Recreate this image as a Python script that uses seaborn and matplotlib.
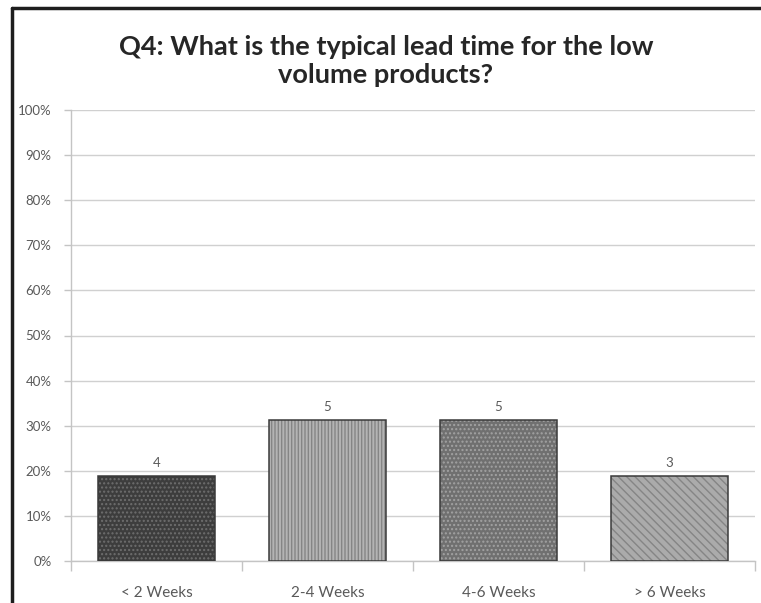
import matplotlib
matplotlib.use("Agg")
import matplotlib.pyplot as plt
from matplotlib.lines import Line2D
from matplotlib.ticker import FixedLocator, PercentFormatter
import seaborn as sns

# Survey answers
categories = ["< 2 Weeks", "2-4 Weeks", "4-6 Weeks", "> 6 Weeks"]
shares = [18.75, 31.25, 31.25, 18.75]      # percent of respondents
counts = [4, 5, 5, 3]                        # number of respondents
y_ticks = [0, 10, 20, 30, 40, 50, 60, 70, 80, 90, 100]

# Grey fills with a lighter/darker texture on top
fills = ["#3d3d3d", "#b4b4b4", "#707070", "#ababab"]
hatch_colors = ["#6e6e6e", "#858585", "#a2a2a2", "#858585"]
hatches = ["....", "|||||", "....", "\\\\\\\\"]

sns.set_theme(style="white")
plt.rcParams["font.family"] = ["Lato", "DejaVu Sans"]
plt.rcParams["hatch.linewidth"] = 1.0

fig = plt.figure(figsize=(7.61, 6.03), dpi=100)
ax = fig.add_axes([71 / 761, 1 - 561 / 603, (755 - 71) / 761, (561 - 110) / 603])

# textured pass
sns.barplot(x=categories, y=shares, hue=categories, palette=fills, legend=False,
            width=0.69, ax=ax, linewidth=0, saturation=1, zorder=3)
for patch, h, hc in zip(ax.patches, hatches, hatch_colors):
    patch.set_hatch(h)
    patch.set_edgecolor(hc)
    patch.set_linewidth(0)

# outline pass
sns.barplot(x=categories, y=shares, fill=False, color="#3a3a3a",
            width=0.69, ax=ax, linewidth=1.1, saturation=1, zorder=4)

ax.bar_label(ax.containers[-1], labels=[str(c) for c in counts],
             padding=5, fontsize=9.5, color="#595959")

ax.set_ylim(0, 100)
ax.set_xlim(-0.5, len(categories) - 0.5)
ax.yaxis.set_major_locator(FixedLocator(y_ticks))
ax.yaxis.set_major_formatter(PercentFormatter(decimals=0))
ax.grid(axis="y", color="#d0d0d0", linewidth=1, zorder=0)
ax.set_axisbelow(True)

for side in ["top", "right"]:
    ax.spines[side].set_visible(False)
ax.spines["left"].set_color("#c4c4c4")
ax.spines["bottom"].set_color("#c4c4c4")
ax.spines["left"].set_linewidth(1)
ax.spines["bottom"].set_linewidth(1)

ax.tick_params(axis="y", which="major", left=True, length=5, width=1,
               color="#c4c4c4", labelsize=9.5, labelcolor="#595959", pad=9)
ax.tick_params(axis="x", which="major", bottom=False, labelsize=11,
               labelcolor="#595959", pad=12)
ax.xaxis.set_minor_locator(FixedLocator([i - 0.5 for i in range(len(categories) + 1)]))
ax.tick_params(axis="x", which="minor", bottom=True, length=7, width=1,
               color="#c4c4c4")
ax.set_xlabel("")
ax.set_ylabel("")

fig.text(386 / 761, 1 - 61 / 603,
         "Q4: What is the typical lead time for the low\nvolume products?",
         ha="center", va="center", fontsize=19.5, fontweight="bold",
         color="#262626", linespacing=1.22)

# chart frame (top and left edges)
fig.add_artist(Line2D([12 / 761, 1.0], [1 - 7.5 / 603, 1 - 7.5 / 603],
                      transform=fig.transFigure, color="#1e1e1e", linewidth=2.5))
fig.add_artist(Line2D([12 / 761, 12 / 761], [0.0, 1 - 7.5 / 603],
                      transform=fig.transFigure, color="#1e1e1e", linewidth=2.5))

fig.savefig("out.png", dpi=100, facecolor="white")
